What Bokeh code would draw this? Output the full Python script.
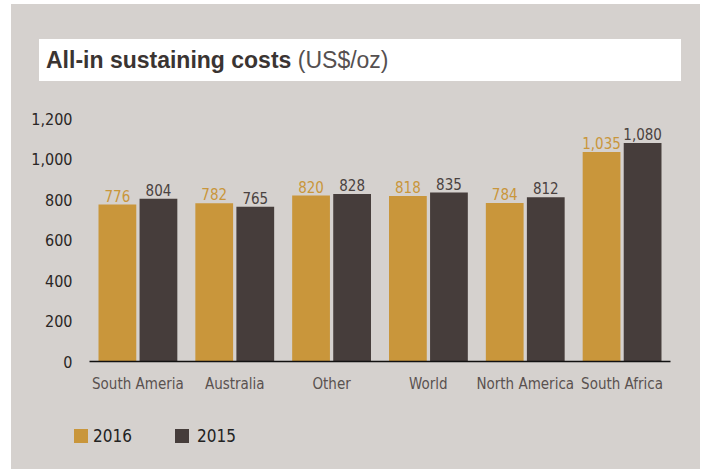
from bokeh.plotting import figure
from bokeh.models import (ColumnDataSource, FactorRange, Range1d, FixedTicker,
                          NumeralTickFormatter, Div)
from bokeh.transform import dodge
from bokeh.layouts import column
from bokeh.core.properties import value
from bokeh.embed import file_html
from bokeh.resources import INLINE

# ---- data ----
categories = ["South Ameria", "Australia", "Other", "World", "North America", "South Africa"]
values_2016 = [776, 782, 820, 818, 784, 1035]
values_2015 = [804, 765, 828, 835, 812, 1080]
y_ticks = [0, 200, 400, 600, 800, 1000, 1200]
series_names = ["2016", "2015"]
title_bold = "All-in sustaining costs"
title_unit = "(US$/oz)"

BG = "#D5D1CE"
GOLD = "#C9963B"
DARK = "#463D3B"
series_colors = [GOLD, DARK]
NARROW = "DejaVu Sans Condensed"

# ---- title box ----
title = Div(text=f'<span style="font-weight:bold;color:#3A3432">{title_bold}</span> '
                 f'<span style="color:#555050">{title_unit}</span>',
            width=642, height=42, margin=(35, 19, 4, 28),
            styles={"background-color": "white", "font-family": "Liberation Sans",
                    "font-size": "23px", "line-height": "42px",
                    "padding-left": "7px", "box-sizing": "border-box",
                    "white-space": "nowrap"})

# ---- main chart ----
src = ColumnDataSource(dict(
    cat=categories, v16=values_2016, v15=values_2015,
    l16=[f"{v:,}" for v in values_2016], l15=[f"{v:,}" for v in values_2015]))

p = figure(width=689, height=330, x_range=FactorRange(*categories, range_padding=0),
           y_range=Range1d(0, 1300), output_backend="svg", toolbar_location=None,
           min_border_left=78, min_border_right=30, min_border_top=13,
           min_border_bottom=54)
p.border_fill_color = BG
p.background_fill_color = BG
p.outline_line_color = None
p.grid.visible = False

off = 0.212
w = 0.39
p.vbar(x=dodge("cat", -off, range=p.x_range), top="v16", width=w, source=src,
       fill_color=GOLD, line_color=None)
p.vbar(x=dodge("cat", off, range=p.x_range), top="v15", width=w, source=src,
       fill_color=DARK, line_color=None)

p.text(x=dodge("cat", -off, range=p.x_range), y="v16", text="l16", source=src,
       text_align="center", text_baseline="bottom", y_offset=-3,
       text_font=value(NARROW), text_font_size="15px", text_color=GOLD)
p.text(x=dodge("cat", off, range=p.x_range), y="v15", text="l15", source=src,
       text_align="center", text_baseline="bottom", y_offset=-3,
       text_font=value(NARROW), text_font_size="15px", text_color="#4A4240")

ya = p.yaxis[0]
ya.ticker = FixedTicker(ticks=y_ticks)
ya.formatter = NumeralTickFormatter(format="0,0")
ya.axis_line_color = None
ya.major_tick_line_color = None
ya.minor_tick_line_color = None
ya.major_label_standoff = 11
ya.major_label_text_font = NARROW
ya.major_label_text_font_size = "16px"
ya.major_label_text_color = "#2A2625"

xa = p.xaxis[0]
xa.axis_line_color = "#111111"
xa.axis_line_width = 1.5
xa.major_tick_line_color = None
xa.minor_tick_line_color = None
xa.major_label_standoff = 7
xa.major_label_text_font = NARROW
xa.major_label_text_font_size = "15px"
xa.major_label_text_color = "#5A5250"

# ---- legend ----
sq_left = [63, 164]
txt_left = [82, 186]
parts = []
for name, col, sl, tl in zip(series_names, series_colors, sq_left, txt_left):
    parts.append(f'<span style="position:absolute;left:{sl}px;top:14px;width:14px;'
                 f'height:14px;background:{col}"></span>')
    parts.append(f'<span style="position:absolute;left:{tl}px;top:14px;'
                 f'line-height:14px;font-size:17px;color:#222222;'
                 f'font-family:\'{NARROW}\'">{name}</span>')
legend = Div(text='<div style="position:relative;width:689px;height:54px">'
                  + "".join(parts) + "</div>",
             width=689, height=54, margin=0)

layout = column(title, p, legend, spacing=0, margin=(4, 0, 0, 11),
                styles={"background-color": BG})
open("out.html", "w").write(file_html(layout, INLINE))
